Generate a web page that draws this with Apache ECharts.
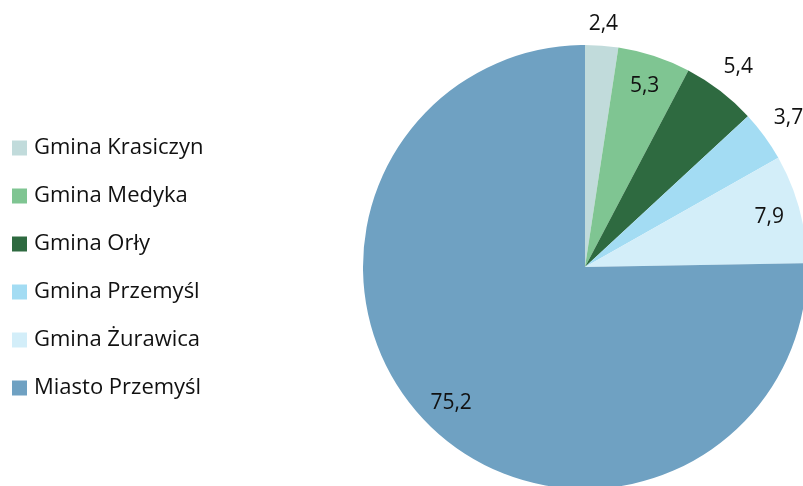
<!DOCTYPE html>
<html>
<head>
<meta charset="utf-8">
<script src="https://cdn.jsdelivr.net/npm/echarts@6/dist/echarts.min.js"></script>
<style>
  html, body { margin: 0; padding: 0; background: #fff; }
  #chart { width: 803px; height: 486px; }
</style>
</head>
<body>
<div id="chart"></div>
<script>
;(function(){
	'use strict';

	// dane
	var categories = ['Gmina Krasiczyn', 'Gmina Medyka', 'Gmina Orły', 'Gmina Przemyśl', 'Gmina Żurawica', 'Miasto Przemyśl'];
	var values = [2.4, 5.3, 5.4, 3.7, 7.9, 75.2];
	var colors = ['#c1dbdb', '#7fc592', '#2e6a40', '#a3dcf3', '#d3eef9', '#6fa1c2'];

	var cx = 585, cy = 267, R = 222;
	var font = '"Open Sans", sans-serif';

	// pierścienie etykiet: promień, na którym leży środek etykiety + indeksy wycinków
	var labelRings = [
		{ r: 188, items: [1, 4, 5] },
		{ r: 241, items: [0] },
		{ r: 249, items: [2, 3] }
	];

	function fmt(v){ return String(v).replace('.', ','); }

	function seriesData(showFn){
		return categories.map(function(name, i){
			return {
				name: name,
				value: values[i],
				label: { show: showFn(i) }
			};
		});
	}

	var series = [{
		// właściwe wycinki
		type: 'pie',
		center: [cx, cy],
		radius: [0, R],
		startAngle: 90,
		silent: true,
		label: { show: false },
		labelLine: { show: false },
		data: seriesData(function(){ return false; })
	}];

	// przezroczyste kopie tylko dla etykiet (etykieta 'inside' leży w połowie promienia)
	labelRings.forEach(function(ring){
		series.push({
			type: 'pie',
			center: [cx, cy],
			radius: [0, 2 * ring.r],
			startAngle: 90,
			silent: true,
			legendHoverLink: false,
			itemStyle: { color: 'transparent' },
			label: {
				position: 'inside',
				color: '#111',
				fontSize: 21,
				fontFamily: font,
				formatter: function(p){ return fmt(p.value); }
			},
			labelLine: { show: false },
			data: seriesData(function(i){ return ring.items.indexOf(i) >= 0; })
		});
	});

	var option = {
		animation: false,
		color: colors,
		legend: {
			orient: 'vertical',
			left: 12,
			top: 137,
			padding: 0,
			itemWidth: 15,
			itemHeight: 15,
			itemGap: 26,
			icon: 'rect',
			selectedMode: false,
			data: categories,
			textStyle: { fontSize: 22, fontFamily: font, color: '#111', padding: [0, 0, 0, 2] }
		},
		series: series
	};

	var myChart = echarts.init(document.getElementById('chart'));
	myChart.setOption(option);
})();
</script>
</body>
</html>
